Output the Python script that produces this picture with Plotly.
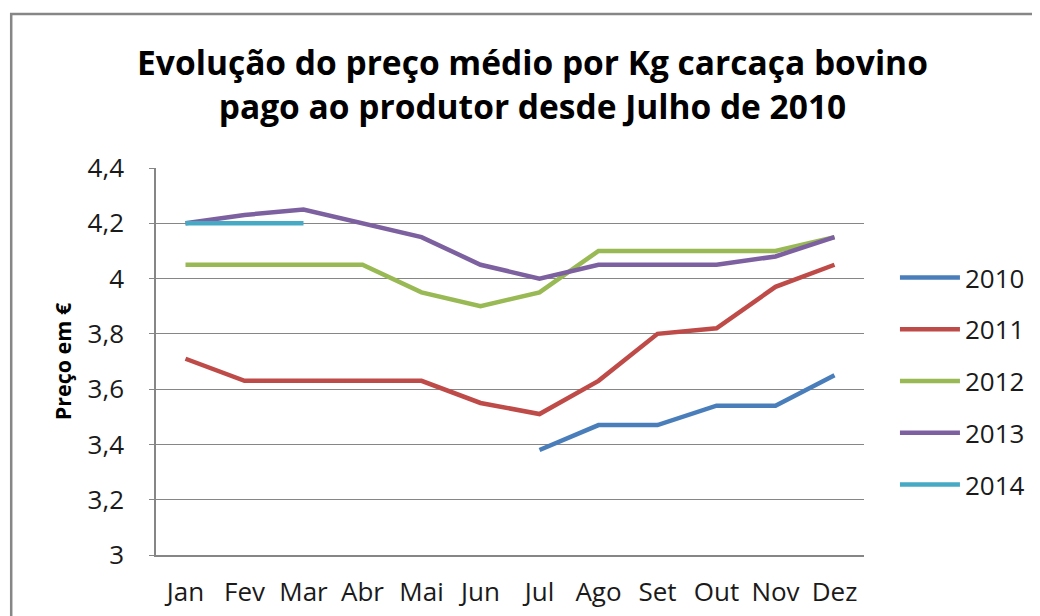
import plotly.graph_objects as go

months = ["Jan", "Fev", "Mar", "Abr", "Mai", "Jun", "Jul", "Ago", "Set", "Out", "Nov", "Dez"]
years = ["2010", "2011", "2012", "2013", "2014"]
s2010 = [None, None, None, None, None, None, 3.38, 3.47, 3.47, 3.54, 3.54, 3.65]
s2011 = [3.71, 3.63, 3.63, 3.63, 3.63, 3.55, 3.51, 3.63, 3.80, 3.82, 3.97, 4.05]
s2012 = [4.05, 4.05, 4.05, 4.05, 3.95, 3.90, 3.95, 4.10, 4.10, 4.10, 4.10, 4.15]
s2013 = [4.20, 4.23, 4.25, 4.20, 4.15, 4.05, 4.00, 4.05, 4.05, 4.05, 4.08, 4.15]
s2014 = [4.20, 4.20, 4.20, None, None, None, None, None, None, None, None, None]
tick_vals = [3.0, 3.2, 3.4, 3.6, 3.8, 4.0, 4.2, 4.4]
tick_text = ["3", "3,2", "3,4", "3,6", "3,8", "4", "4,2", "4,4"]

colors = ["#4A7EBB", "#BE4B48", "#98B954", "#7D60A0", "#46AAC5"]
series = [s2010, s2011, s2012, s2013, s2014]

FONT = "'Open Sans', 'Noto Sans', sans-serif"
OFFX = 5.5
OFFY = 8

fig = go.Figure()
for name, vals, col in zip(years, series, colors):
    fig.add_trace(go.Scatter(
        x=months, y=vals, name=name, mode="lines", legendgroup=name,
        line=dict(color=col, width=4.5),
        connectgaps=False,
    ))

W, H = 1040, 616
# plot area in screen pixels: x 153..862, y 168..555
L = 153 - OFFX
T = 168 - OFFY
R = W - (862 - OFFX)
B = H - (555 - OFFY)
pw, ph = W - L - R, H - T - B

def sx(p):
    return (p - OFFX - L) / pw

def sy(p):
    return (H - B - (p - OFFY)) / ph

fig.update_layout(
    width=W, height=H,
    margin=dict(l=L, r=R, t=T, b=B),
    paper_bgcolor="white", plot_bgcolor="white",
    separators=",.",
    title=dict(
        text="Evolução do preço médio por Kg carcaça bovino<br>pago ao produtor desde Julho de 2010",
        x=(530 - OFFX) / W, xanchor="center", y=1 - (75 - OFFY) / H, yanchor="middle",
        font=dict(family=FONT, size=33.5, color="#000000", weight="bold"),
    ),
    font=dict(family=FONT, size=26, color="#1a1a1a"),
    xaxis=dict(
        type="category", categoryorder="array", categoryarray=months,
        showgrid=False, showline=True, linecolor="#868686", linewidth=1.5,
        ticks="", tickfont=dict(size=26, color="#1a1a1a"),
        range=[-0.5, 11.5], ticklabelstandoff=13,
    ),
    yaxis=dict(
        range=[3.0, 4.4], tickvals=tick_vals, ticktext=tick_text,
        showgrid=True, gridcolor="#868686", gridwidth=1.2,
        showline=True, linecolor="#868686", linewidth=1.5,
        ticks="outside", ticklen=5, tickcolor="#868686",
        tickfont=dict(size=26, color="#1a1a1a"),
        ticklabelstandoff=20,
        title=dict(text="Preço em €", font=dict(size=21.5, color="#000000", weight="bold"), standoff=10),
        zeroline=False,
    ),
    legend=dict(
        x=sx(893), y=sy(254), xanchor="left", yanchor="top",
        font=dict(size=26, color="#1a1a1a"),
        tracegroupgap=15, itemwidth=60,
        bgcolor="rgba(0,0,0,0)",
    ),
    showlegend=True,
    shapes=[dict(
        type="rect", xref="paper", yref="paper",
        x0=sx(8), x1=sx(1060), y0=sy(640), y1=sy(14),
        line=dict(color="#868686", width=2.5), fillcolor="rgba(0,0,0,0)", layer="below",
    )],
)

fig.write_html("out.html")
